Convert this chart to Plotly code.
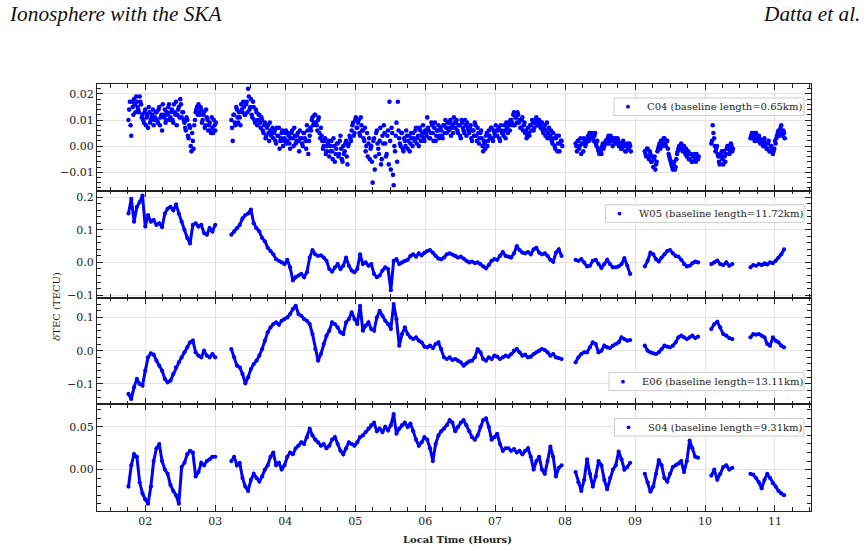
import numpy as np
import plotly.graph_objects as go
from plotly.subplots import make_subplots

# Observation segments (local time, hours): start, end
SEG_BOUNDS = [(1.76, 3.00), (3.23, 7.95), (8.15, 8.93), (9.14, 9.90), (10.09, 10.39), (10.65, 11.13)]

NAMES = ["C04 (baseline length=0.65km)", "W05 (baseline length=11.72km)",
         "E06 (baseline length=13.11km)", "S04 (baseline length=9.31km)"]

# delta-TEC values in milli-TECU, evenly spaced within each segment
C04 = [
    [10, 17, 4, 15, 18, 13, 17, 14, 19, 16,
     12, 9, 14, 11, 7, 13, 10, 12, 8, 11,
     13, 9, 15, 11, 6, 12, 14, 10, 12, 16,
     11, 14, 9, 13, 17, 12, 15, 18, 11, 13,
     9, 6, 10, 3, 7, -2, 2, 8, 13, 15,
     16, 12, 14, 10, 13, 8, 11, 6, 9, 5,
     7, 10, 6],
    [10, 2, 12, 8, 14, 9, 11, 16, 13, 15,
     12, 17, 22, 14, 18, 11, 15, 9, 13, 10,
     12, 7, 10, 5, 9, 4, 8, 2, 6, 5,
     3, 6, 1, 4, 7, 2, 5, 0, 3, 6,
     2, 4, -1, 5, 3, 7, 1, 4, 2, 6,
     3, 0, 5, 2, 8, -3, 4, 6, 11, 9,
     12, 8, 10, 5, 7, 2, 0, 3, -2, 1,
     -4, 0, -2, 3, -6, -1, 1, -3, 4, -5,
     0, -2, 2, -7, 1, 3, 6, 9, 5, 11,
     7, 10, 4, 8, 6, 2, -2, 5, 1, -5,
     0, -14, 3, -4, 6, -1, 2, -7, 4, 8,
     1, -3, 6, 17, -9, 5, -15, -2, 9, 17,
     3, 0, 5, -2, 2, 6, -1, 4, 1, 3,
     5, 2, 7, 3, 0, 6, 4, 8, 2, 5,
     11, 6, 3, 9, 5, 7, 2, 6, 8, 4,
     6, 3, 8, 10, 5, 7, 9, 4, 8, 11,
     7, 10, 5, 8, 3, 9, 6, 10, 4, 7,
     5, 8, 2, 6, 9, 4, 7, 1, 5, 3,
     -2, 1, 4, 0, 6, 3, 7, 2, 5, 8,
     4, 7, 2, 6, 5, 8, 3, 7, 9, 6,
     10, 8, 13, 11, 9, 12, 10, 7, 11, 8,
     5, 3, 7, 4, 8, 10, 6, 9, 11, 8,
     10, 7, 9, 5, 8, 6, 3, 7, 4, 2,
     5, 0, 3, -2, 4, 1, 2],
    [1, -2, 2, 0, -3, 1, 3, 0, 2, 4,
     5, 3, 4, 2, 5, 0, -1, -3, -2, 0,
     -1, 1, 2, 3, 1, 4, 2, 3, 1, 2,
     3, 0, 1, -1, 2, 0, -2, 1, -1, 0],
    [-2, -4, -1, -5, -3, -6, -8, -4, -7, -2,
     0, -1, 2, 1, 3, 0, 2, -3, -5, -7,
     -9, -6, -8, -3, -1, 0, 1, -2, 0, -3,
     -4, -2, -5, -3, -6, -4, -5, -3, -5],
    [1, 8, 3, -2, 0, -4, -7, -3, -5, -2, -6, -1, 0, -3, 1, -2],
    [3, 5, 4, 2, 5, 3, 4, 1, 2, 0, 3, 1, -1, 2, -2, 0, -3, -1, 1, 4, 6, 5, 8, 4, 5],
]

# second set of C04 samples (interleaved half a sample later)
C04_B = [
    [14, 8, 17, 12, 16, 19, 15, 13, 17, 11,
     10, 13, 8, 12, 15, 9, 11, 14, 10, 13,
     10, 14, 8, 12, 16, 11, 9, 13, 15, 10,
     13, 10, 16, 12, 8, 14, 11, 16, 13, 10,
     7, 11, 4, 8, 0, 5, -1, 10, 14, 12,
     13, 15, 9, 12, 7, 14, 10, 8, 6, 11,
     5, 8, 9],
    [7, 12, 9, 15, 11, 13, 8, 14, 17, 12,
     16, 13, 19, 15, 12, 17, 10, 14, 8, 12,
     9, 11, 6, 8, 3, 7, 5, 9, 4, 7,
     5, 2, 7, 4, -1, 3, 6, 2, 5, 1,
     5, 1, 3, 6, 0, 4, 2, 5, -2, 3,
     1, 5, 3, -1, 6, 2, 7, 10, 8, 12,
     9, 6, 11, 3, 4, -1, 2, -3, 0, 2,
     -2, 2, -5, 0, -3, 1, -4, 2, -1, -6,
     -3, 1, -4, 0, 4, 2, 8, 4, 10, 7,
     9, 5, 11, 6, 3, 7, 0, -4, 3, -1,
     -6, 2, -9, 5, 1, -3, 7, -5, 1, 5,
     -4, 4, -7, 2, 7, -11, 0, 4, -6, 6,
     1, 5, -1, 3, 0, 4, 2, -2, 5, 0,
     3, 6, 1, 4, 7, 2, 5, 3, 6, 4,
     7, 3, 5, 8, 2, 9, 4, 6, 3, 7,
     4, 8, 5, 7, 9, 6, 10, 7, 5, 9,
     9, 6, 8, 4, 10, 7, 5, 8, 9, 6,
     7, 3, 6, 4, 8, 2, 5, 3, 6, 0,
     2, -1, 5, 2, 4, 7, 3, 6, 4, 6,
     6, 3, 8, 5, 4, 6, 9, 5, 8, 10,
     9, 12, 8, 11, 13, 9, 7, 10, 6, 9,
     6, 4, 5, 8, 6, 9, 7, 10, 8, 9,
     8, 9, 6, 7, 4, 9, 5, 3, 6, 1,
     3, -1, 4, 1, -2, 2, 0],
    [0, 2, -1, 3, 1, -2, 2, 1, 3, 2,
     4, 5, 3, 4, 1, 2, -2, -1, -3, 1,
     0, 2, 1, 4, 2, 3, 0, 2, 3, 1,
     2, 1, -1, 0, 1, -2, 0, -1, 1, -2],
    [-3, -1, -4, -2, -6, -4, -5, -9, -6, -1,
     1, 2, 0, 3, 1, 2, -1, -4, -6, -8,
     -7, -9, -5, -2, 0, -1, 0, -1, -2, -1,
     -3, -5, -3, -6, -4, -3, -6, -4, -4],
    [2, 5, 0, -1, -3, -6, -4, -2, -7, -4, -3, 0, -1, -2, 0, -1],
    [4, 3, 5, 3, 4, 2, 3, 2, 1, 2, 0, -1, 1, -2, 0, -1, -2, 2, 3, 5, 4, 7, 5, 6, 3],
]

W05 = [
    [150, 195, 125, 170, 185, 205, 110, 145, 125, 130, 115, 120, 108, 150, 165, 170,
     160, 178, 150, 125, 100, 75, 58, 115, 120, 110, 115, 90, 85, 105, 95, 115],
    [85, 95, 105, 115, 135, 145, 150, 162, 120, 105, 95, 75, 65, 45, 35, 25, 10, 5, 0, -5,
     8, -15, -55, -45, -40, -35, -45, -30, 15, 38, 25, 20, 22, 15, 5, -20, -28, -15, -5, -20,
     -10, 15, -10, -25, -30, -20, 25, -5, 0, -10, -5, -35, -45, -40, -25, -15, -20, -85, 5, 10,
     -5, 0, 5, 8, 20, 25, 18, 28, 22, 30, 35, 38, 30, 20, 12, 10, 15, 25, 28, 24,
     20, 15, 18, 12, 5, 0, 3, -2, 0, -5, -12, -18, -8, 5, 10, 8, 20, 32, 20, 18,
     15, 28, 50, 38, 30, 28, 32, 25, 40, 45, 30, 25, 28, 20, 8, 2, 30, 40, 20],
    [8, 5, 10, 0, -12, -10, 5, 8, -5, -17, -5, 8, -5, -15, -15, -12, -5, 13, -10, -35],
    [-12, 5, 30, 25, 10, 3, 15, 25, 35, 38, 28, 20, 18, 8, -5, -12, -10, -2, 3, 0],
    [-5, 0, 6, -5, -8, 0, -10, -5],
    [-15, -8, -10, -5, -8, -3, -6, 0, -2, 5, 15, 25, 40],
]

E06 = [
    [-130, -145, -110, -85, -100, -105, -60, -20, -8, -12, -30, -45, -60, -85, -95, -90,
     -70, -50, -35, -20, -5, 10, 25, 30, -5, -15, -20, 0, -15, -20, -10, -20],
    [5, -20, -45, -50, -70, -98, -80, -55, -40, -30, -15, 5, 30, 55, 70, 80, 85, 78, 90, 95,
     100, 110, 125, 135, 110, 105, 95, 90, 80, 50, 5, -30, -10, 20, 45, 60, 85, 80, 70, 55,
     50, 85, 95, 115, 95, 80, 135, 60, 75, 85, 65, 60, 100, 120, 105, 90, 80, 65, 140, 95,
     15, 50, 70, 50, 40, 35, 40, 30, 25, 12, 10, 15, 8, 20, 25, 5, -20, -25, -20, -28,
     -25, -30, -35, -45, -38, -32, -30, -20, 5, -5, -25, -30, -20, -25, -15, -18, -25, -20, -15, -18,
     -10, 0, 5, -5, -15, -12, -20, -18, -10, -5, 0, 5, 2, -5, -15, -10, -20, -22, -25],
    [-35, -20, -10, -5, -5, 10, 25, 20, -5, 0, 15, 10, 8, 15, 20, 25, 40, 35, 30, 32],
    [15, 0, -5, -8, -10, -5, 5, 15, 12, 10, 15, 25, 40, 45, 40, 35, 40, 45, 38, 42],
    [65, 80, 87, 70, 50, 45, 38, 35],
    [40, 50, 48, 50, 45, 40, 20, 15, 40, 30, 25, 15, 10],
]

S04 = [
    [-20, 5, 18, 15, -15, -28, -35, -40, -20, 10, 25, 30, 10, 0, -5, -18,
     -25, -30, -40, 3, 8, 18, 22, 20, -8, -3, 8, 5, 10, 12, 15, 15],
    [10, 15, 5, 8, -10, -20, -25, -12, -5, -10, -14, -8, 0, 5, 15, 20, 5, 8, 0, 5,
     15, 20, 18, 25, 28, 32, 30, 38, 48, 40, 35, 32, 28, 30, 25, 28, 35, 38, 30, 22,
     18, 25, 32, 30, 28, 32, 38, 40, 44, 48, 52, 55, 45, 48, 44, 50, 46, 52, 65, 42,
     48, 52, 55, 50, 54, 45, 35, 28, 32, 38, 35, 25, 10, 30, 40, 45, 48, 52, 58, 55,
     45, 50, 55, 58, 52, 45, 38, 35, 40, 50, 58, 60, 50, 35, 38, 42, 30, 22, 25, 25,
     22, 24, 20, 22, 18, 22, 25, 15, 0, 10, 15, 0, -5, 10, 27, 15, -8, 2, 5],
    [-3, -15, -25, -12, 12, -5, -20, -8, 10, 5, -12, -23, -10, 0, 5, 21, 12, 0, 3, 8],
    [-5, -15, -26, -20, -5, 11, 5, -10, -14, -5, 3, 5, 7, 10, -3, 10, 34, 25, 15, 14],
    [-7, 0, -12, -5, 3, 5, 0, 2],
    [-5, -6, -10, -15, -22, -12, -5, -10, -16, -20, -25, -28, -30],
]

SERIES = [C04, W05, E06, S04]
X_TICKS = [2, 3, 4, 5, 6, 7, 8, 9, 10, 11]
X_TICKTEXT = ["02", "03", "04", "05", "06", "07", "08", "09", "10", "11"]


def seg_xy(segs, half_shift=False):
    xs, ys = [], []
    for (t0, t1), vals in zip(SEG_BOUNDS, segs):
        t = np.linspace(t0, t1, len(vals))
        if half_shift:
            t = t + (t1 - t0) / (len(vals) - 1) / 2.0
        xs += list(t) + [None]
        ys += [v / 1000.0 for v in vals] + [None]
    return xs, ys


BLUE = "#0000ff"
DARK = "#222222"
SERIF = "DejaVu Serif"

fig = make_subplots(rows=4, cols=1, shared_xaxes=True, vertical_spacing=0)

for i, segs in enumerate(SERIES):
    xs, ys = seg_xy(segs)
    if i == 0:
        xb, yb = seg_xy(C04_B, half_shift=True)
        for xx, yy in ((xs, ys), (xb, yb)):
            fig.add_trace(go.Scatter(x=xx, y=yy, mode="markers", name=NAMES[i],
                                     marker=dict(color=BLUE, size=4.6, line=dict(width=0)),
                                     showlegend=False), row=1, col=1)
    else:
        fig.add_trace(go.Scatter(x=xs, y=ys, mode="lines+markers", name=NAMES[i],
                                 line=dict(color=BLUE, width=3),
                                 marker=dict(color=BLUE, size=4.2, line=dict(width=0)),
                                 showlegend=False, connectgaps=False),
                      row=i + 1, col=1)

y_ranges = [[-0.0171, 0.0238], [-0.1073, 0.2196], [-0.161, 0.1598], [-0.0486, 0.0766]]
y_dticks = [0.01, 0.1, 0.1, 0.05]
y_minor = [0.002, 0.02, 0.02, 0.01]
y_fmt = [".2f", ".1f", ".1f", ".2f"]

axis_common = dict(
    showline=True, linecolor=DARK, linewidth=1.2, mirror="allticks",
    ticks="inside", ticklen=6, tickwidth=1.4, tickcolor=DARK,
    showgrid=True, gridcolor="#e3e3e3", gridwidth=1, zeroline=False,
    tickfont=dict(family=SERIF, size=11, color=DARK),
)

for i in range(4):
    fig.update_yaxes(range=y_ranges[i], dtick=y_dticks[i], tick0=0, tickformat=y_fmt[i],
                     minor=dict(dtick=y_minor[i], tick0=0, ticks="inside", ticklen=3.5,
                                tickwidth=1, tickcolor=DARK, showgrid=False),
                     row=i + 1, col=1, **axis_common)
    fig.update_xaxes(range=[1.31, 11.515], tickvals=X_TICKS, ticktext=X_TICKTEXT,
                     minor=dict(dtick=0.25, tick0=0, ticks="inside", ticklen=3.5,
                                tickwidth=1, tickcolor=DARK, showgrid=False),
                     row=i + 1, col=1, **axis_common)

# plot area in pixels (for placing the hand-drawn legends)
PL, PR, PT, PB = 97.0, 811.0, 84.0, 511.5


def px_x(p):
    return (p - PL) / (PR - PL)


def px_y(p):
    return (PB - p) / (PB - PT)


# legend boxes: left, top, bottom (pixels); right edge shared
LEG_BOXES = [(614, 98, 115.5), (605.5, 205, 222.5), (609, 373, 391), (614.5, 419, 436.5)]
LEG_RIGHT = 804

shapes, annotations = [], []
for (lx, ty, by), name in zip(LEG_BOXES, NAMES):
    shapes.append(dict(type="rect", xref="paper", yref="paper",
                       x0=px_x(lx), x1=px_x(LEG_RIGHT), y0=px_y(by), y1=px_y(ty),
                       line=dict(color="#cccccc", width=1),
                       fillcolor="rgba(255,255,255,0.85)", layer="above"))
    cy = (ty + by) / 2.0
    shapes.append(dict(type="circle", xref="paper", yref="paper",
                       xsizemode="pixel", ysizemode="pixel",
                       xanchor=px_x(lx + 14), yanchor=px_y(cy),
                       x0=-1.9, x1=1.9, y0=-1.9, y1=1.9,
                       fillcolor=BLUE, line=dict(width=0), layer="above"))
    annotations.append(dict(text=name, xref="paper", yref="paper",
                            x=px_x(lx + 31), y=px_y(cy), xanchor="left", yanchor="middle",
                            showarrow=False, font=dict(family=SERIF, size=10, color=DARK)))

annotations += [
    dict(text="<i>δ</i>TEC (TECU)", xref="paper", yref="paper", x=px_x(57), y=px_y(307),
         textangle=-90, showarrow=False, font=dict(family=SERIF, size=10, color=DARK),
         xanchor="center", yanchor="middle"),
    dict(text="<b>Local Time (Hours)</b>", xref="paper", yref="paper", x=px_x(457), y=px_y(540),
         showarrow=False, font=dict(family=SERIF, size=10, color=DARK),
         xanchor="center", yanchor="middle"),
    dict(text="<i>Ionosphere with the SKA</i>", xref="paper", yref="paper",
         x=px_x(7), y=px_y(14), showarrow=False,
         font=dict(family="Liberation Serif", size=21.3, color="#111111"),
         xanchor="left", yanchor="middle"),
    dict(text="<i>Datta et al.</i>", xref="paper", yref="paper",
         x=px_x(862), y=px_y(14), showarrow=False,
         font=dict(family="Liberation Serif", size=21.3, color="#111111"),
         xanchor="right", yanchor="middle"),
]

fig.update_layout(
    width=868, height=551,
    margin=dict(l=97, r=57, t=84, b=39.5),
    paper_bgcolor="white", plot_bgcolor="white",
    showlegend=False,
    shapes=shapes,
    annotations=annotations,
)

fig.write_html("out.html")
